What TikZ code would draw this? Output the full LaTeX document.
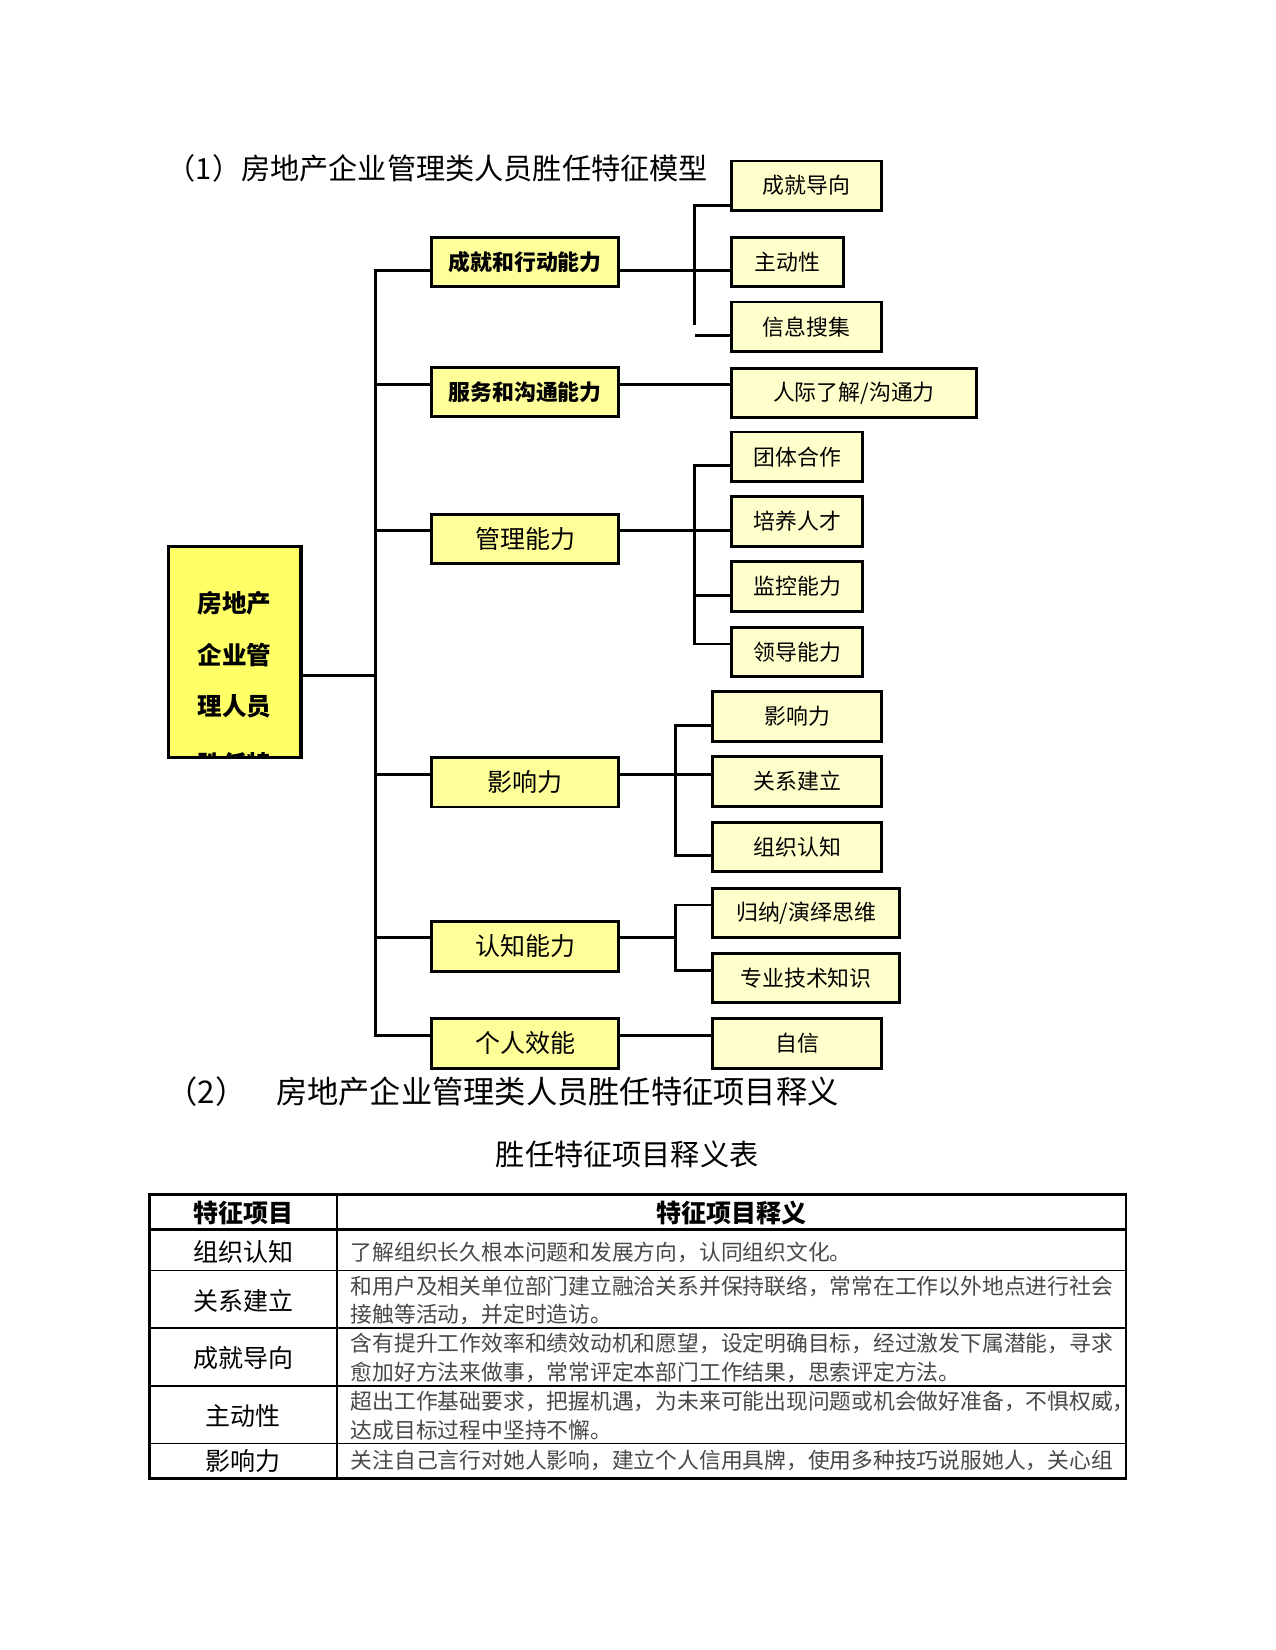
\documentclass[tikz,border=0pt]{standalone}
\usepackage{fontspec}
\setmainfont{Noto Sans CJK SC}
\usetikzlibrary{calc}
\definecolor{rootfill}{RGB}{255,255,102}
\definecolor{groupfill}{RGB}{255,255,153}
\definecolor{itemfill}{RGB}{255,255,204}
\definecolor{notegray}{RGB}{72,72,72}
\tikzset{
  boxsize/.style 2 args={
    minimum width=#1*0.505pt,
    minimum height=#2*0.505pt
  },
  rootbox/.style={
    draw=black,
    fill=rootfill,
    line width=1.5pt,
    inner sep=0pt,
    outer sep=0pt
  },
  groupbox/.style={
    draw=black,
    fill=groupfill,
    line width=1.4pt,
    inner sep=0pt,
    outer sep=0pt,
    boxsize={178}{47},
    font=\fontsize{12}{14}\selectfont
  },
  groupboxbold/.style={
    groupbox,
    font=\fontsize{10.5}{12}\selectfont\bfseries
  },
  itembox/.style={
    draw=black,
    fill=itemfill,
    line width=1.4pt,
    inner sep=0pt,
    outer sep=0pt,
    font=\fontsize{10.5}{12}\selectfont
  },
  link/.style={
    draw=black,
    line width=1.4pt,
    line cap=rect
  },
  tablerule/.style={
    draw=black,
    line width=1.3pt
  },
  tablethin/.style={
    draw=black,
    line width=0.6pt
  },
  rowlabel/.style={
    font=\fontsize{12}{14}\selectfont
  },
  rowtext/.style={
    text=notegray,
    anchor=west,
    align=left,
    inner sep=0pt,
    font=\fontsize{10.45}{13.6}\selectfont
  }
}

\begin{document}
\begin{tikzpicture}[x=0.505pt,y=-0.505pt]
  \useasboundingbox (0,0) rectangle (1212,1568);

  % Part (1): competency model tree
  \node[font=\fontsize{14}{16}\selectfont,anchor=west,inner sep=0pt]
    (title1) at (158,160) {（1）房地产企业管理类人员胜任特征模型};

  % root box; its fourth text line is cut off by the box edge
  \node[rootbox,boxsize={126}{201}] (root) at (223,619.5) {};
  \begin{scope}
    \clip ($(root.south west)+(1.5,-1.5)$) rectangle ($(root.north east)+(-1.5,1.5)$);
    \node[font=\fontsize{11.8}{24.7}\selectfont\bfseries,align=center,inner sep=0pt]
      (rootlabel) at (223,622.6) {房地产\\企业管\\理人员};
    \node[font=\fontsize{11.8}{14}\selectfont\bfseries,inner sep=0pt]
      (rootcut) at (223,726) {胜任特};
  \end{scope}

  % second level
  \node[groupboxbold] (act)  at (499,249)   {成就和行动能力};
  \node[groupboxbold] (serv) at (499,372.5) {服务和沟通能力};
  \node[groupbox]     (mgmt) at (499,512)   {管理能力};
  \node[groupbox]     (infl) at (499,743.4) {影响力};
  \node[groupbox]     (cogn) at (499,899.4) {认知能力};
  \node[groupbox]     (self) at (499,991.5) {个人效能};

  % third level
  \node[itembox,boxsize={143}{47}] (ach)   at (766.5,176.5) {成就导向};
  \node[itembox,boxsize={107}{47}] (init)  at (748.5,249)   {主动性};
  \node[itembox,boxsize={143}{47}] (info)  at (766.5,310.5) {信息搜集};
  \node[itembox,boxsize={233}{47}] (inter) at (811.5,373.5) {人际了解/沟通力};
  \node[itembox,boxsize={125}{47}] (team)  at (757.5,434)   {团体合作};
  \node[itembox,boxsize={125}{47}] (train) at (757.5,495.5) {培养人才};
  \node[itembox,boxsize={125}{47}] (mon)   at (757.5,557.5) {监控能力};
  \node[itembox,boxsize={125}{47}] (lead)  at (757.5,619.5) {领导能力};
  \node[itembox,boxsize={161}{47}] (infl2) at (757.5,681)   {影响力};
  \node[itembox,boxsize={161}{47}] (rel)   at (757.5,742.5) {关系建立};
  \node[itembox,boxsize={161}{47}] (org)   at (757.5,805)   {组织认知};
  \node[itembox,boxsize={178}{47}] (induc) at (766,867.5)   {归纳/演绎思维};
  \node[itembox,boxsize={178}{47}] (prof)  at (766,929.5)   {专业技术知识};
  \node[itembox,boxsize={161}{47}] (conf)  at (757.5,991.5) {自信};

  % trunk and its branch points
  \coordinate (tR) at (357,642);
  \coordinate (tA) at (357,256.7);
  \coordinate (tB) at (357,365.3);
  \coordinate (tC) at (357,504.5);
  \coordinate (tD) at (357,735.7);
  \coordinate (tE) at (357,891);
  \coordinate (tF) at (357,983.8);
  \draw[link] (tA) -- (tF);
  \draw[link] (root.east |- tR) -- (tR);
  \draw[link] (tA) -- (act.west |- tA);
  \draw[link] (tB) -- (serv.west |- tB);
  \draw[link] (tC) -- (mgmt.west |- tC);
  \draw[link] (tD) -- (infl.west |- tD);
  \draw[link] (tE) -- (cogn.west |- tE);
  \draw[link] (tF) -- (self.west |- tF);

  % achievement group (the lowest stub does not meet the spine)
  \coordinate (gA) at (660,195);
  \coordinate (gAb) at (660,307);
  \coordinate (gAs) at (662,318.4);
  \draw[link] (ach.west |- gA) -- (gA) -- (gAb);
  \draw[link] (act.east |- tA) -- (init.west |- tA);
  \draw[link] (gAs) -- (info.west |- gAs);

  % service group
  \draw[link] (serv.east |- tB) -- (inter.west |- tB);

  % management group
  \coordinate (gC) at (660,442);
  \coordinate (gCm) at (660,565.6);
  \coordinate (gCb) at (660,612);
  \draw[link] (team.west |- gC) -- (gC) -- (gCb) -- (lead.west |- gCb);
  \draw[link] (mgmt.east |- tC) -- (train.west |- tC);
  \draw[link] (gCm) -- (mon.west |- gCm);

  % influence group
  \coordinate (gD) at (642,689);
  \coordinate (gDb) at (642,812.7);
  \draw[link] (infl2.west |- gD) -- (gD) -- (gDb) -- (org.west |- gDb);
  \draw[link] (infl.east |- tD) -- (rel.west |- tD);

  % cognition group
  \coordinate (gE) at (642,860);
  \coordinate (gEb) at (642,922);
  \draw[link] (induc.west |- gE) -- (gE) -- (gEb) -- (prof.west |- gEb);
  \draw[link] (cogn.east |- tE) -- (gE |- tE);

  % personal effectiveness
  \draw[link] (self.east |- tF) -- (conf.west |- tF);

  % Part (2): explanation table
  \node[font=\fontsize{15}{17}\selectfont,anchor=west,inner sep=0pt]
    (title2a) at (158,1037) {（2）};
  \node[font=\fontsize{15}{17}\selectfont,anchor=west,inner sep=0pt]
    (title2b) at (262,1037) {房地产企业管理类人员胜任特征项目释义};
  \node[font=\fontsize{14}{16}\selectfont,inner sep=0pt]
    (caption) at (596,1097) {胜任特征项目释义表};

  \draw[tablethin] (142,1207) -- (1070,1207);
  \draw[tablethin] (142,1262) -- (1070,1262);
  \draw[tablethin] (142,1317) -- (1070,1317);
  \draw[tablethin] (142,1372) -- (1070,1372);
  \draw[tablerule,line width=1.1pt] (320,1135) -- (320,1405);
  \draw[tablerule,line width=1.5pt] (142,1168) -- (1070,1168);
  \draw[tablerule] (142,1135) rectangle (1070,1405);

  \node[rowlabel,font=\fontsize{12}{14}\selectfont\bfseries] (headA) at (231,1153) {特征项目};
  \node[rowlabel,font=\fontsize{12}{14}\selectfont\bfseries] (headB) at (695,1153) {特征项目释义};

  \node[rowlabel] (labA) at (231,1190) {组织认知};
  \node[rowlabel] (labB) at (231,1236) {关系建立};
  \node[rowlabel] (labC) at (231,1291) {成就导向};
  \node[rowlabel] (labD) at (231,1346) {主动性};
  \node[rowlabel] (labE) at (231,1388) {影响力};

  \node[rowtext] (txtA) at (333,1190) {了解组织长久根本问题和发展方向，认同组织文化。};
  \node[rowtext] (txtB) at (333,1235.5)
    {和用户及相关单位部门建立融洽关系并保持联络，常常在工作以外地点进行社会\\接触等活动，并定时造访。};
  \node[rowtext] (txtC) at (333,1290.5)
    {含有提升工作效率和绩效动机和愿望，设定明确目标，经过激发下属潜能，寻求\\愈加好方法来做事，常常评定本部门工作结果，思索评定方法。};
  \node[rowtext] (txtD) at (333,1345.5)
    {超出工作基础要求，把握机遇，为未来可能出现问题或机会做好准备，不惧权威，\\达成目标过程中坚持不懈。};
  \node[rowtext] (txtE) at (333,1388) {关注自己言行对她人影响，建立个人信用具牌，使用多种技巧说服她人，关心组};

\end{tikzpicture}
\end{document}
